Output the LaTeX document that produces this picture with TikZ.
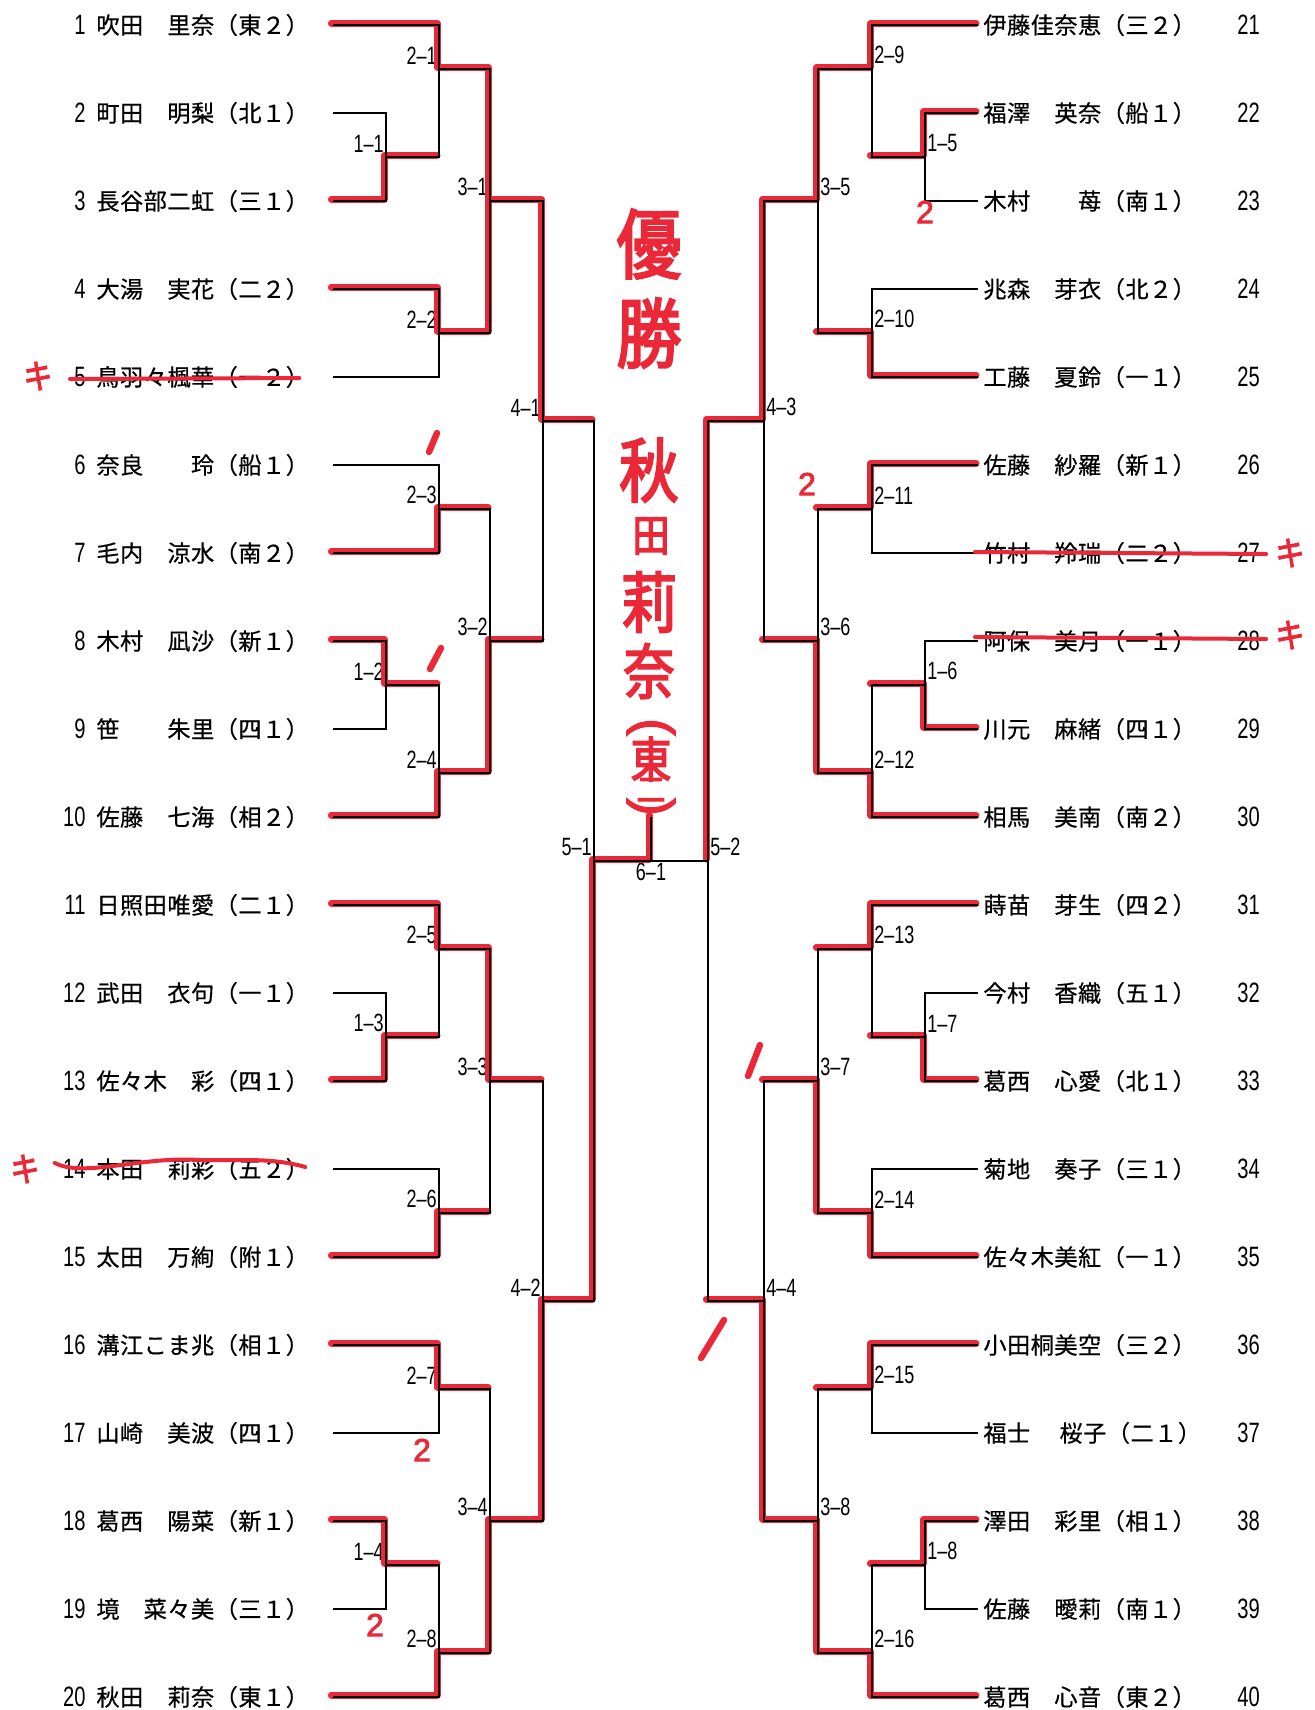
\documentclass[tikz,border=0pt]{standalone}
\usepackage{fontspec}
\usepackage{graphicx}
\usetikzlibrary{calc,positioning}
\newfontfamily\jpfont[FakeBold=0.5,LetterSpace=2]{Noto Sans CJK JP}
\newfontfamily\numfont[FakeStretch=0.72]{Liberation Sans}
\newfontfamily\markfont[FakeBold=3,FakeStretch=0.85]{Noto Sans CJK JP}
\newfontfamily\twofont[FakeBold=2.5]{Liberation Sans}
\definecolor{inkred}{RGB}{234,40,56}
\newcommand{\ry}[1]{25+88*(#1-1)}

\begin{document}
\begin{tikzpicture}[x=0.5pt,y=-0.5pt]
\tikzstyle{brk}=[draw=black, line width=1.1pt]
\tikzstyle{win}=[draw=inkred, line width=3.3pt, line cap=round, line join=round, transform canvas={xshift=-0.9pt,yshift=0.9pt}]
\tikzstyle{nm}=[anchor=west, inner sep=0pt, font=\jpfont\fontsize{11.6}{12}\selectfont]
\tikzstyle{num}=[inner sep=0pt, font=\numfont\fontsize{14}{14}\selectfont]
\tikzstyle{lblL}=[anchor=south east, inner sep=1pt, yshift=1.2pt, font=\numfont\fontsize{12.5}{13}\selectfont]
\tikzstyle{lblR}=[anchor=south west, inner sep=1pt, yshift=1.2pt, font=\numfont\fontsize{12.5}{13}\selectfont]
\tikzstyle{kmark}=[text=inkred, inner sep=0pt, font=\markfont\fontsize{17}{17}\selectfont]
\tikzstyle{twomark}=[text=inkred, inner sep=0pt, font=\twofont\fontsize{16}{16}\selectfont]
\tikzstyle{big}=[text=inkred, inner sep=0pt, font=\markfont\fontsize{38}{38}\selectfont]
\tikzstyle{paren}=[text=inkred, inner sep=0pt, font=\twofont\fontsize{26}{26}\selectfont]
\tikzstyle{strk}=[draw=inkred, line width=2pt, line cap=round]
\tikzstyle{tick}=[draw=inkred, line width=3.2pt, line cap=round]

\useasboundingbox (0,0) rectangle (1314,1710);

% entries
\foreach \rw/\nm in {1/吹田　里奈（東２）, 2/町田　明梨（北１）, 3/長谷部二虹（三１）, 4/大湯　実花（二２）,
  5/鳥羽々楓華（一２）, 6/奈良　　玲（船１）, 7/毛内　涼水（南２）, 8/木村　凪沙（新１）,
  9/笹　　朱里（四１）, 10/佐藤　七海（相２）, 11/日照田唯愛（二１）, 12/武田　衣句（一１）,
  13/佐々木　彩（四１）, 14/本田　莉彩（五２）, 15/太田　万絢（附１）, 16/溝江こま兆（相１）,
  17/山崎　美波（四１）, 18/葛西　陽菜（新１）, 19/境　菜々美（三１）, 20/秋田　莉奈（東１）}{
  \coordinate (L\rw) at (333,{\ry{\rw}});
  \node[num, anchor=east] (a\rw) at (86,{\ry{\rw}}) {\rw};
  \node[nm] (n\rw) at (96,{\ry{\rw}}) {\nm};
}
\foreach \rw/\nm in {21/伊藤佳奈恵（三２）, 22/福澤　英奈（船１）, 23/木村　　苺（南１）, 24/兆森　芽衣（北２）,
  25/工藤　夏鈴（一１）, 26/佐藤　紗羅（新１）, 27/竹村　羚瑞（二２）, 28/阿保　美月（一１）,
  29/川元　麻緒（四１）, 30/相馬　美南（南２）, 31/蒔苗　芽生（四２）, 32/今村　香織（五１）,
  33/葛西　心愛（北１）, 34/菊地　奏子（三１）, 35/佐々木美紅（一１）, 36/小田桐美空（三２）,
  37/福士　 桜子（二１）, 38/澤田　彩里（相１）, 39/佐藤　曖莉（南１）, 40/葛西　心音（東２）}{
  \coordinate (R\rw) at (978,{\ry{\rw-20}});
  \node[nm] (n\rw) at (983,{\ry{\rw-20}}) {\nm};
  \node[num, anchor=west] (b\rw) at (1237,{\ry{\rw-20}}) {\rw};
}

% junctions
\foreach \n/\x/\rw/\t in {11/386/2.5/1–1, 21/439/1.5/2–1, 22/439/4.5/2–2, 31/490/3/3–1,
  23/439/6.5/2–3, 12/386/8.5/1–2, 24/439/9.5/2–4, 32/490/8/3–2, 41/543/5.5/4–1,
  13/386/12.5/1–3, 25/439/11.5/2–5, 26/439/14.5/2–6, 33/490/13/3–3,
  27/439/16.5/2–7, 14/386/18.5/1–4, 28/439/19.5/2–8, 34/490/18/3–4, 42/543/15.5/4–2,
  51/594/10.5/5–1}{
  \coordinate (j\n) at (\x,{\ry{\rw}});
  \node[lblL] (t\n) at (j\n) {\t};
}
\foreach \n/\x/\rw/\t in {15/925/2.5/1–5, 29/872/1.5/2–9, 210/872/4.5/2–10, 35/818/3/3–5,
  211/872/6.5/2–11, 16/925/8.5/1–6, 212/872/9.5/2–12, 36/818/8/3–6, 43/764/5.5/4–3,
  17/925/12.5/1–7, 213/872/11.5/2–13, 214/872/14.5/2–14, 37/818/13/3–7,
  215/872/16.5/2–15, 18/925/18.5/1–8, 216/872/19.5/2–16, 38/818/18/3–8, 44/764/15.5/4–4,
  52/708/10.5/5–2}{
  \coordinate (j\n) at (\x,{\ry{\rw}});
  \node[lblR] (t\n) at (j\n) {\t};
}
\coordinate (j61) at (651,{\ry{10.5}});
\coordinate (s61) at (651,{\ry{10}});
\node[anchor=north, inner sep=1pt, font=\numfont\fontsize{12.5}{13}\selectfont] (t61) at (j61) {6–1};

% red winners
\draw[win] (L1) -| (j21) -| (j31) -| (j41) -- (j41 -| j51);
\draw[win] (L3) -| (j11) -- (j11 -| j21);
\draw[win] (L4) -| (j22) -| (j31);
\draw[win] (L7) -| (j23) -- (j23 -| j32);
\draw[win] (L8) -| (j12) -- (j12 -| j24);
\draw[win] (L10) -| (j24) -| (j32) -- (j32 -| j41);
\draw[win] (L11) -| (j25) -| (j33) -- (j33 -| j42);
\draw[win] (L13) -| (j13) -- (j13 -| j25);
\draw[win] (L15) -| (j26) -- (j26 -| j33);
\draw[win] (L16) -| (j27) -- (j27 -| j34);
\draw[win] (L18) -| (j14) -- (j14 -| j28);
\draw[win] (L20) -| (j28) -| (j34) -| (j42) -| (j51) -- (j61) -- (s61);
\draw[win] (R21) -| (j29) -| (j35) -| (j43) -| (j52);
\draw[win] (R22) -| (j15) -- (j15 -| j29);
\draw[win] (R25) -| (j210) -- (j210 -| j35);
\draw[win] (R26) -| (j211) -- (j211 -| j36);
\draw[win] (R29) -| (j16) -- (j16 -| j212);
\draw[win] (R30) -| (j212) -| (j36) -- (j36 -| j43);
\draw[win] (R31) -| (j213) -- (j213 -| j37);
\draw[win] (R33) -| (j17) -- (j17 -| j213);
\draw[win] (R35) -| (j214) -| (j37) -- (j37 -| j44);
\draw[win] (R36) -| (j215) -- (j215 -| j38);
\draw[win] (R38) -| (j18) -- (j18 -| j216);
\draw[win] (R40) -| (j216) -| (j38) -| (j44) -- (j44 -| j52);

% bracket
\foreach \a/\b in {L2/j11, L3/j11, L1/j21, j11/j21, L4/j22, L5/j22, j21/j31, j22/j31,
  L6/j23, L7/j23, L8/j12, L9/j12, j12/j24, L10/j24, j23/j32, j24/j32, j31/j41, j32/j41,
  L11/j25, L12/j13, L13/j13, j13/j25, L14/j26, L15/j26, j25/j33, j26/j33,
  L16/j27, L17/j27, L18/j14, L19/j14, j14/j28, L20/j28, j27/j34, j28/j34,
  j33/j42, j34/j42, j41/j51, j42/j51,
  R22/j15, R23/j15, R21/j29, j15/j29, R24/j210, R25/j210, j29/j35, j210/j35,
  R26/j211, R27/j211, R28/j16, R29/j16, j16/j212, R30/j212, j211/j36, j212/j36, j35/j43, j36/j43,
  R31/j213, R32/j17, R33/j17, j17/j213, R34/j214, R35/j214, j213/j37, j214/j37,
  R36/j215, R37/j215, R38/j18, R39/j18, j18/j216, R40/j216, j215/j38, j216/j38,
  j37/j44, j38/j44, j43/j52, j44/j52}
  \draw[brk] (\a) -| (\b);
\draw[brk] (j51) -- (j52);
\draw[brk] (j61) -- (s61);

% champion
\node[big] (w1) at (649,244) {優};
\node[big] (w2) at (649,333) {勝};
\node[big, font=\markfont\fontsize{35}{35}\selectfont] (w3) at (649,470) {秋};
\node[big, font=\markfont\fontsize{22}{22}\selectfont] (w4) at (651,536) {田};
\node[big, font=\markfont\fontsize{33}{33}\selectfont] (w5) at (649,602) {莉};
\node[big, font=\markfont\fontsize{30}{30}\selectfont] (w6) at (649,671) {奈};
\node[paren] (w7) at (651,727) {\rotatebox{-90}{(}};
\node[big, font=\markfont\fontsize{24}{24}\selectfont] (w8) at (651,759) {東};
\node[big, font=\markfont\fontsize{17}{17}\selectfont] (w9) at (651,790) {二};
\node[paren] (w10) at (651,807) {\rotatebox{-90}{)}};

% marks
\draw[strk] ($(a5.west)+(-4,2)$) -- ($(n5.east)+(-10,1)$);
\draw[strk] ($(a14.west)+(-8,-6)$) .. controls (85,1178) and (140,1156) .. (200,1160)
  .. controls (240,1161) and (270,1157) .. ($(n14.east)+(-4,-2)$);
\draw[strk] ($(n27.west)+(-8,-1)$) -- ($(b27.east)+(6,1)$);
\draw[strk] ($(n28.west)+(-8,-4)$) -- ($(b28.east)+(6,-2)$);
\node[kmark] (k5) at (38,376) {キ};
\node[kmark] (k14) at (25,1169) {キ};
\node[kmark] (k27) at (1290,553) {キ};
\node[kmark] (k28) at (1290,635) {キ};
\node[twomark] (m1) at (925,212) {2};
\node[twomark] (m2) at (807,484) {2};
\node[twomark] (m3) at (422,1450) {2};
\node[twomark] (m4) at (375,1625) {2};
\draw[tick] (437,433) -- (429,452);
\draw[tick] (441,648) -- (430,669);
\draw[tick] (760,1045) -- (748,1076);
\draw[tick] (724,1320) -- (701,1358);
\end{tikzpicture}
\end{document}
